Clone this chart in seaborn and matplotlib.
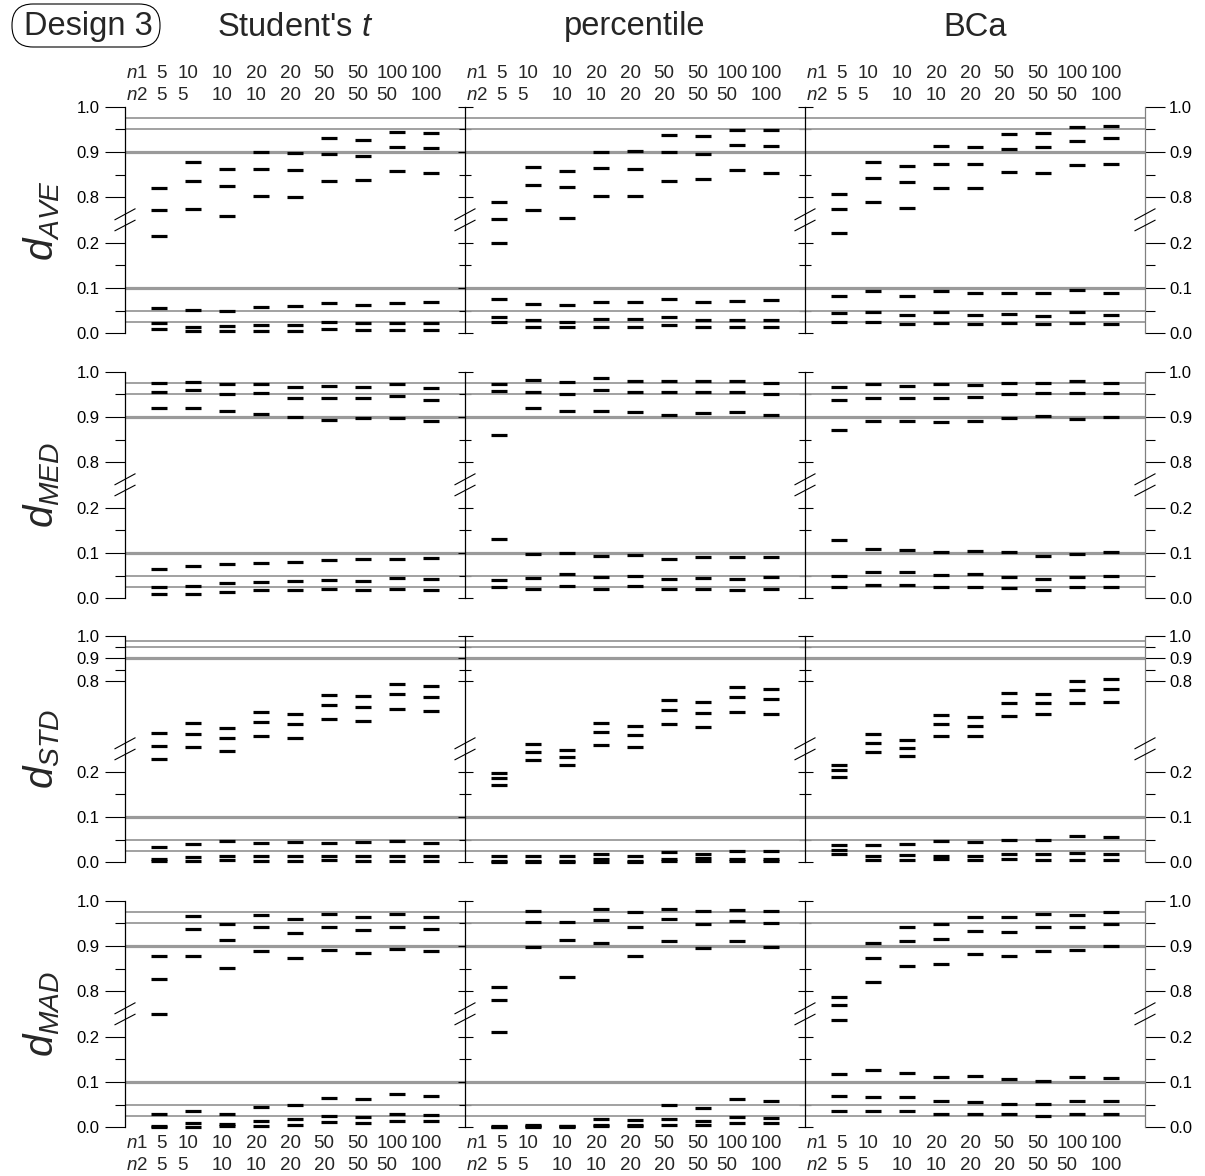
import numpy as np
import pandas as pd
import matplotlib
matplotlib.use("Agg")
import matplotlib.pyplot as plt
from matplotlib.patches import FancyBboxPatch
from matplotlib.transforms import IdentityTransform
import seaborn as sns

# ---------------------------------------------------------------- data
n1_sizes = ["5", "10", "10", "20", "20", "50", "50", "100", "100"]
n2_sizes = ["5", "5", "10", "10", "20", "20", "50", "50", "100"]
methods = ["Student's $t$", "percentile", "BCa"]
statistics = ["AVE", "MED", "STD", "MAD"]

# rates near the upper nominal levels (.975, .95, .90) and near the lower ones (.10, .05, .025)
ave_t_high = [(0.820, 0.772, 0.215), (0.877, 0.835, 0.775), (0.863, 0.824, 0.759),
              (0.899, 0.863, 0.802), (0.897, 0.860, 0.800), (0.932, 0.895, 0.835),
              (0.926, 0.891, 0.838), (0.945, 0.912, 0.858), (0.941, 0.908, 0.853)]
ave_t_low = [(0.055, 0.022, 0.010), (0.052, 0.015, 0.005), (0.049, 0.016, 0.005),
             (0.057, 0.018, 0.006), (0.060, 0.018, 0.006), (0.066, 0.026, 0.009),
             (0.063, 0.022, 0.007), (0.066, 0.022, 0.007), (0.068, 0.022, 0.007)]
ave_p_high = [(0.790, 0.753, 0.199), (0.868, 0.827, 0.771), (0.859, 0.822, 0.754),
              (0.901, 0.864, 0.802), (0.902, 0.863, 0.804), (0.937, 0.901, 0.837),
              (0.935, 0.896, 0.840), (0.949, 0.915, 0.860), (0.949, 0.914, 0.854)]
ave_p_low = [(0.076, 0.037, 0.025), (0.065, 0.029, 0.015), (0.063, 0.026, 0.013),
             (0.068, 0.031, 0.015), (0.068, 0.031, 0.015), (0.076, 0.037, 0.018),
             (0.069, 0.029, 0.015), (0.071, 0.029, 0.015), (0.074, 0.029, 0.015)]
ave_b_high = [(0.807, 0.774, 0.221), (0.879, 0.842, 0.789), (0.869, 0.833, 0.777),
              (0.914, 0.874, 0.820), (0.910, 0.873, 0.820), (0.939, 0.907, 0.857),
              (0.943, 0.911, 0.853), (0.956, 0.924, 0.871), (0.957, 0.930, 0.874)]
ave_b_low = [(0.083, 0.044, 0.026), (0.094, 0.046, 0.024), (0.083, 0.040, 0.021),
             (0.094, 0.046, 0.022), (0.088, 0.040, 0.021), (0.090, 0.042, 0.022),
             (0.088, 0.038, 0.021), (0.096, 0.046, 0.022), (0.090, 0.041, 0.020)]

med_t_high = [(0.976, 0.956, 0.921), (0.977, 0.959, 0.920), (0.972, 0.951, 0.914),
              (0.973, 0.952, 0.906), (0.967, 0.943, 0.900), (0.968, 0.942, 0.894),
              (0.967, 0.943, 0.897), (0.972, 0.947, 0.898), (0.965, 0.937, 0.892)]
med_t_low = [(0.064, 0.025, 0.009), (0.072, 0.027, 0.009), (0.076, 0.033, 0.015),
             (0.077, 0.036, 0.019), (0.081, 0.038, 0.019), (0.084, 0.041, 0.020),
             (0.087, 0.038, 0.019), (0.087, 0.044, 0.021), (0.089, 0.043, 0.019)]
med_p_high = [(0.972, 0.958, 0.861), (0.982, 0.956, 0.919), (0.978, 0.950, 0.913),
              (0.985, 0.959, 0.914), (0.979, 0.956, 0.911), (0.979, 0.956, 0.905),
              (0.980, 0.956, 0.909), (0.980, 0.956, 0.911), (0.976, 0.951, 0.904)]
med_p_low = [(0.131, 0.040, 0.025), (0.097, 0.045, 0.021), (0.099, 0.054, 0.027),
             (0.094, 0.046, 0.021), (0.095, 0.049, 0.027), (0.086, 0.042, 0.021),
             (0.092, 0.045, 0.021), (0.092, 0.042, 0.019), (0.092, 0.046, 0.020)]
med_b_high = [(0.967, 0.937, 0.871), (0.972, 0.943, 0.892), (0.969, 0.943, 0.891),
              (0.972, 0.943, 0.888), (0.971, 0.945, 0.891), (0.976, 0.951, 0.897),
              (0.974, 0.952, 0.903), (0.979, 0.952, 0.896), (0.976, 0.952, 0.900)]
med_b_low = [(0.129, 0.049, 0.025), (0.109, 0.058, 0.029), (0.106, 0.057, 0.029),
             (0.102, 0.052, 0.026), (0.104, 0.053, 0.026), (0.102, 0.048, 0.022),
             (0.094, 0.043, 0.019), (0.098, 0.048, 0.024), (0.102, 0.049, 0.025)]

std_t_high = [(0.569, 0.515, 0.228), (0.616, 0.565, 0.507), (0.591, 0.547, 0.246),
              (0.665, 0.621, 0.559), (0.654, 0.610, 0.550), (0.738, 0.694, 0.631),
              (0.735, 0.685, 0.624), (0.785, 0.741, 0.676), (0.778, 0.731, 0.669)]
std_t_low = [(0.034, 0.007, 0.002), (0.041, 0.011, 0.003), (0.046, 0.015, 0.004),
             (0.043, 0.015, 0.003), (0.044, 0.013, 0.002), (0.043, 0.015, 0.004),
             (0.044, 0.015, 0.003), (0.046, 0.013, 0.002), (0.043, 0.013, 0.002)]
std_p_high = [(0.198, 0.187, 0.171), (0.524, 0.244, 0.225), (0.247, 0.233, 0.214),
              (0.613, 0.574, 0.518), (0.600, 0.562, 0.509), (0.716, 0.671, 0.610),
              (0.706, 0.660, 0.599), (0.775, 0.729, 0.662), (0.765, 0.721, 0.653)]
std_p_low = [(0.015, 0.002, 0.000), (0.015, 0.003, 0.000), (0.013, 0.002, 0.000),
             (0.018, 0.007, 0.000), (0.015, 0.003, 0.000), (0.022, 0.007, 0.003),
             (0.019, 0.009, 0.002), (0.025, 0.007, 0.002), (0.026, 0.007, 0.002)]
std_b_high = [(0.215, 0.203, 0.188), (0.565, 0.528, 0.243), (0.540, 0.506, 0.235),
              (0.650, 0.610, 0.559), (0.641, 0.603, 0.556), (0.746, 0.701, 0.647),
              (0.743, 0.701, 0.654), (0.800, 0.760, 0.701), (0.809, 0.765, 0.707)]
std_b_low = [(0.038, 0.028, 0.019), (0.038, 0.015, 0.005), (0.041, 0.016, 0.005),
             (0.048, 0.015, 0.007), (0.045, 0.015, 0.004), (0.050, 0.018, 0.007),
             (0.049, 0.018, 0.005), (0.058, 0.020, 0.005), (0.055, 0.018, 0.005)]

mad_t_high = [(0.879, 0.828, 0.249), (0.966, 0.937, 0.879), (0.949, 0.913, 0.852),
              (0.968, 0.941, 0.888), (0.959, 0.928, 0.873), (0.971, 0.943, 0.891),
              (0.964, 0.935, 0.885), (0.971, 0.943, 0.893), (0.964, 0.938, 0.888)]
mad_t_low = [(0.029, 0.003, 0.001), (0.035, 0.010, 0.001), (0.029, 0.007, 0.003),
             (0.044, 0.013, 0.003), (0.049, 0.018, 0.005), (0.064, 0.024, 0.011),
             (0.062, 0.022, 0.009), (0.074, 0.029, 0.013), (0.070, 0.027, 0.013)]
mad_p_high = [(0.810, 0.781, 0.211), (0.977, 0.954, 0.898), (0.953, 0.913, 0.832),
              (0.981, 0.957, 0.906), (0.974, 0.943, 0.878), (0.981, 0.960, 0.912),
              (0.977, 0.949, 0.896), (0.979, 0.955, 0.910), (0.977, 0.950, 0.898)]
mad_p_low = [(0.002, 0.001, 0.000), (0.005, 0.002, 0.000), (0.003, 0.002, 0.000),
             (0.019, 0.004, 0.002), (0.016, 0.004, 0.002), (0.049, 0.018, 0.005),
             (0.043, 0.015, 0.005), (0.062, 0.022, 0.009), (0.059, 0.020, 0.009)]
mad_b_high = [(0.788, 0.770, 0.237), (0.907, 0.873, 0.820), (0.943, 0.911, 0.857),
              (0.949, 0.915, 0.860), (0.963, 0.933, 0.882), (0.965, 0.931, 0.879),
              (0.971, 0.943, 0.889), (0.969, 0.941, 0.891), (0.974, 0.949, 0.899)]
mad_b_low = [(0.118, 0.068, 0.036), (0.126, 0.066, 0.035), (0.119, 0.066, 0.036),
             (0.110, 0.058, 0.029), (0.113, 0.056, 0.030), (0.107, 0.052, 0.029),
             (0.103, 0.052, 0.025), (0.110, 0.057, 0.029), (0.108, 0.059, 0.030)]

panel_data = {
    "AVE": [(ave_t_high, ave_t_low), (ave_p_high, ave_p_low), (ave_b_high, ave_b_low)],
    "MED": [(med_t_high, med_t_low), (med_p_high, med_p_low), (med_b_high, med_b_low)],
    "STD": [(std_t_high, std_t_low), (std_p_high, std_p_low), (std_b_high, std_b_low)],
    "MAD": [(mad_t_high, mad_t_low), (mad_p_high, mad_p_low), (mad_b_high, mad_b_low)],
}

nominal_thin = [0.025, 0.05, 0.95, 0.975]
nominal_thick = [0.10, 0.90]
major_ticks = [0.0, 0.1, 0.2, 0.8, 0.9, 1.0]
minor_ticks = [0.05, 0.15, 0.85, 0.95]

# ---------------------------------------------------------------- style
sns.set_theme(style="white")
plt.rcParams["font.family"] = ["Liberation Sans", "DejaVu Sans"]
plt.rcParams["mathtext.fontset"] = "custom"
plt.rcParams["mathtext.rm"] = "Liberation Sans"
plt.rcParams["mathtext.it"] = "Liberation Sans:italic"
plt.rcParams["mathtext.bf"] = "Liberation Sans:bold"

W, H = 1205, 1176
fig = plt.figure(figsize=(W / 100, H / 100), dpi=100)
fig.patch.set_facecolor("white")

col_left = [125, 465, 805]
col_w = 340
row_top = [106.7, 371.7, 635.7, 900.7]
row_h = 226.6
GRAY = "#9a9a9a"
EPS = 1e-6
LABEL_SIZE = 13.5
TICK_SIZE = 12


def broken_scale(upper_start, upper_gain):
    """Lower part 0..0.25 at full size, upper part upper_start..1 at upper_gain, gap removed."""
    xp = np.array([-1.0, 0.0, 0.25, upper_start, 1.0, 2.0])
    fp = np.array([-1.0, 0.0, 0.25, 0.25 + EPS, 0.5, 0.5 + upper_gain])

    def fwd(v):
        return np.interp(np.asarray(v, dtype=float), xp, fp)

    def inv(d):
        return np.interp(np.asarray(d, dtype=float), fp, xp)

    return fwd, inv


def panel_frame(high, low):
    rows = []
    for k, (h, l) in enumerate(zip(high, low), start=1):
        for v in list(h) + list(l):
            rows.append((k, v))
    return pd.DataFrame(rows, columns=["pos", "rate"])


def draw_break(ax, xfrac):
    # pair of slashes across the spine at the scale break
    hw = 10.5 / col_w
    for y0, y1 in [(0.0, 11.4), (-11.0, 0.0)]:
        ax.plot([xfrac - hw, xfrac + hw],
                [0.5 + y0 / row_h, 0.5 + y1 / row_h],
                transform=ax.transAxes, color="black", lw=0.8,
                clip_on=False, solid_capstyle="butt", zorder=6)


label_shift = {1: 0.08, 2: 0.45, 3: 0.6}


def size_labels(ax, ypos_n1, ypos_n2):
    tr = ax.get_xaxis_transform()
    ax.text(0.03, ypos_n1, "$n$1", transform=tr, ha="left", va="center", fontsize=LABEL_SIZE)
    ax.text(0.03, ypos_n2, "$n$2", transform=tr, ha="left", va="center", fontsize=LABEL_SIZE)
    for k, (a, b) in enumerate(zip(n1_sizes, n2_sizes), start=1):
        x = k - label_shift[max(len(a), len(b))]
        ax.text(x, ypos_n1, a, transform=tr, ha="left", va="center", fontsize=LABEL_SIZE)
        ax.text(x, ypos_n2, b, transform=tr, ha="left", va="center", fontsize=LABEL_SIZE)


for r, stat in enumerate(statistics):
    if stat == "STD":
        fwd, inv = broken_scale(0.5, 0.5)
    else:
        fwd, inv = broken_scale(0.75, 1.0)
    for c in range(3):
        bottom = 1 - (row_top[r] + row_h) / H
        ax = fig.add_axes([col_left[c] / W, bottom, col_w / W, row_h / H])
        ax.set_facecolor("none")
        ax.set_yscale("function", functions=(fwd, inv))

        for v in nominal_thin:
            ax.axhline(v, color=GRAY, lw=1.3, zorder=1)
        for v in nominal_thick:
            ax.axhline(v, color=GRAY, lw=2.3, zorder=1)

        high, low = panel_data[stat][c]
        df = panel_frame(high, low)
        sns.scatterplot(data=df, x="pos", y="rate", marker="_", s=118,
                        linewidth=2.3, color="black", ax=ax, legend=False,
                        clip_on=False, zorder=4)

        ax.set_xlim(0, 10)
        ax.set_ylim(0, 1)
        ax.set_xlabel("")
        ax.set_ylabel("")
        ax.set_xticks([])
        ax.set_yticks(major_ticks)
        ax.set_yticklabels([f"{v:.1f}" for v in major_ticks])
        ax.set_yticks(minor_ticks, minor=True)

        for sp in ["top", "bottom"]:
            ax.spines[sp].set_visible(False)
        ax.spines["left"].set_color("black")
        ax.spines["left"].set_linewidth(0.9)

        common = dict(axis="y", width=0.8, colors="black", labelsize=TICK_SIZE)
        if c == 0:
            ax.spines["right"].set_visible(False)
            ax.tick_params(which="major", direction="out", length=14.4, pad=4,
                           left=True, right=False, labelleft=True, labelright=False, **common)
            ax.tick_params(which="minor", direction="out", length=7.2,
                           left=True, right=False, **common)
            draw_break(ax, 0.0)
        elif c == 1:
            ax.spines["right"].set_visible(False)
            ax.tick_params(which="major", direction="inout", length=10.8,
                           left=True, right=True, labelleft=False, labelright=False, **common)
            ax.tick_params(which="minor", direction="inout", length=8.6,
                           left=True, right=True, **common)
            draw_break(ax, 0.0)
        else:
            ax.spines["right"].set_visible(True)
            ax.spines["right"].set_color("#808080")
            ax.spines["right"].set_linewidth(0.9)
            ax.tick_params(which="major", direction="out", length=14.4, pad=3,
                           left=False, right=True, labelleft=False, labelright=True, **common)
            ax.tick_params(which="minor", direction="out", length=7.2,
                           left=False, right=True, **common)
            draw_break(ax, 0.0)
            draw_break(ax, 1.0)

        if r == 0:
            size_labels(ax, 1 + 33.7 / row_h, 1 + 11.7 / row_h)
        if r == 3:
            size_labels(ax, -16.0 / row_h, -38.0 / row_h)

    fig.text(42 / W, 1 - (row_top[r] + row_h / 2) / H, f"$d_{{{stat}}}$",
             rotation=90, ha="center", va="center", fontsize=29)

# column titles
for c, meth in enumerate(methods):
    fig.text((col_left[c] + col_w / 2) / W, 1 - 27 / H, meth,
             ha="center", va="center", fontsize=23.5)

# design tag in a pill-shaped frame
fig.text(88 / W, 1 - 26 / H, "Design 3", ha="center", va="center", fontsize=23.5)
fig.patches.append(FancyBboxPatch((12, H - 47), 148, 43,
                                  boxstyle="round,pad=0,rounding_size=21",
                                  transform=IdentityTransform(), fc="none",
                                  ec="black", lw=0.8))

fig.savefig("out.png", dpi=100, facecolor="white")
